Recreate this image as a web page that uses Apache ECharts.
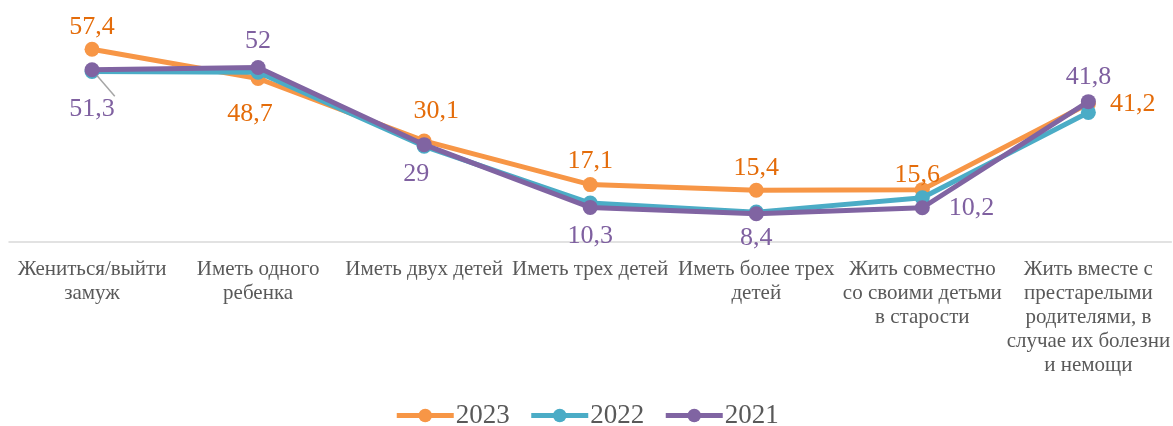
<!DOCTYPE html>
<html>
<head>
<meta charset="utf-8">
<script src="https://cdn.jsdelivr.net/npm/echarts@6/dist/echarts.min.js"></script>
<style>
  html, body { margin: 0; padding: 0; background: #fff; }
  #chart { width: 1173px; height: 426px; }
</style>
</head>
<body>
<div id="chart"></div>
<script>
// categories (line breaks as in the source picture)
const categories = [
  'Жениться/выйти\nзамуж',
  'Иметь одного\nребенка',
  'Иметь двух детей',
  'Иметь трех детей',
  'Иметь более трех\nдетей',
  'Жить совместно\nсо своими детьми\nв старости',
  'Жить вместе с\nпрестарелыми\nродителями, в\nслучае их болезни\nи немощи'
];

// series values
const years = ['2023', '2022', '2021'];
const values2023 = [57.4, 48.7, 30.1, 17.1, 15.4, 15.6, 41.2];
const values2022 = [50.8, 50.6, 28.5, 11.6, 8.9, 13.2, 38.6];
const values2021 = [51.3, 52, 29, 10.3, 8.4, 10.2, 41.8];

// value label placement (2022 has no labels)
const labelPos2023 = ['top', 'bottom', 'top', 'top', 'top', 'top', 'right'];
const labelDist2023 = [2, 15, 9, 3, 2, -6, 14];
const labelPos2021 = ['bottom', 'top', 'bottom', 'bottom', 'bottom', 'right', 'top'];
const labelDist2021 = [19, 6, 9, 8, 4, 19, 4];

const chart = echarts.init(document.getElementById('chart'));

const font = '"Liberation Serif", "Times New Roman", serif';
const colors = ['#F79646', '#4BACC6', '#8064A2'];
const labelColors = ['#E46C0A', '#4BACC6', '#7F60A0'];

function fmt(v) {
  return String(v).replace('.', ',');
}

function buildData(values, positions, dists, seriesIdx) {
  return values.map((v, i) => {
    const item = { value: v };
    if (positions) {
      const label = {
        show: true,
        position: positions[i],
        distance: dists[i],
        formatter: p => fmt(p.value),
        color: labelColors[seriesIdx],
        fontFamily: font,
        fontSize: 26
      };
      if (seriesIdx === 0 && i === 1) label.offset = [-8, 0];
      if (seriesIdx === 0 && i === 2) label.offset = [12, 0];
      if (seriesIdx === 0 && i === 5) label.offset = [-5, 0];
      if (seriesIdx === 2 && i === 2) label.offset = [-8, 0];
      item.label = label;
      if (seriesIdx === 2 && i === 0) {
        item.labelLine = { show: true, lineStyle: { color: '#a6a6a6', width: 1.5 } };
      }
    }
    return item;
  });
}

const seriesShared = {
  type: 'line',
  symbol: 'circle',
  symbolSize: 15,
  smooth: false,
  lineStyle: { width: 5 },
  emphasis: { disabled: true },
  animation: false
};

const allValues = [values2023, values2022, values2021];
const allPositions = [labelPos2023, null, labelPos2021];
const allDists = [labelDist2023, null, labelDist2021];

const option = {
  textStyle: { fontFamily: font },
  color: colors,
  grid: { left: 9, right: 0, top: 7, bottom: 184 },
  legend: {
    top: 397,
    left: 'center',
    itemWidth: 57,
    itemHeight: 17,
    itemGap: 19,
    lineStyle: { width: 5 },
    textStyle: { fontFamily: font, fontSize: 27, color: '#595959', padding: [0, 0, 0, -3] },
    data: years
  },
  xAxis: {
    type: 'category',
    data: categories,
    boundaryGap: true,
    axisLine: { show: true, lineStyle: { color: '#d9d9d9', width: 1.5 } },
    axisTick: { show: false },
    axisLabel: {
      interval: 0,
      margin: 15,
      fontFamily: font,
      fontSize: 21,
      lineHeight: 24,
      color: '#595959',
      align: 'center',
      verticalAlign: 'top'
    }
  },
  yAxis: {
    type: 'value',
    min: 0,
    max: 70,
    show: false,
    splitLine: { show: false }
  },
  series: years.map((y, idx) => Object.assign({}, seriesShared, {
    name: y,
    data: buildData(allValues[idx], allPositions[idx], allDists[idx], idx),
    z: 2 + idx
  }))
};

chart.setOption(option);
</script>
</body>
</html>
